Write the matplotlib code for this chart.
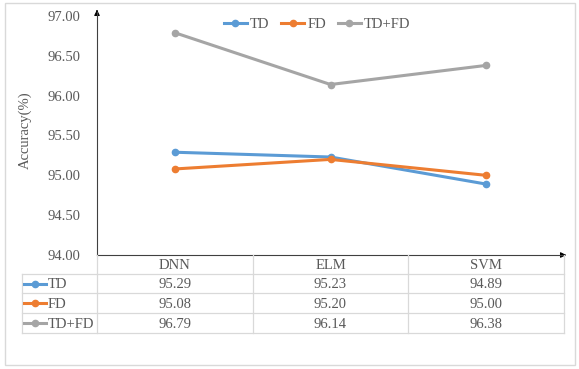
import matplotlib.pyplot as plt
from matplotlib.lines import Line2D
from matplotlib.patches import Rectangle

W, H = 579, 369

categories = ["DNN", "ELM", "SVM"]
series_names = ["TD", "FD", "TD+FD"]
td = [95.29, 95.23, 94.89]
fd = [95.08, 95.20, 95.00]
td_fd = [96.79, 96.14, 96.38]
yticks = [94.0, 94.5, 95.0, 95.5, 96.0, 96.5, 97.0]
colors = ["#5B9BD5", "#ED7D31", "#A5A5A5"]

plt.rcParams['font.family'] = ['Liberation Serif', 'DejaVu Serif']
TXT = "#595959"
GRID = "#D9D9D9"


def fx(x):
    return x / W


def fy(y):
    return 1 - y / H


fig = plt.figure(figsize=(W / 100, H / 100), dpi=100)

# outer chart border
fig.add_artist(Rectangle((fx(5), fy(365)), fx(570), 362 / H, transform=fig.transFigure,
                         fill=False, edgecolor=GRID, lw=1))

# plot area
left, right, top, bottom = 97, 564, 16, 255
ax = fig.add_axes([fx(left), fy(bottom), fx(right - left), (bottom - top) / H])
ax.set_xlim(0, 3)
ax.set_ylim(94, 97)
for s in ax.spines.values():
    s.set_visible(False)
ax.set_xticks([])
ax.set_yticks(yticks)
ax.set_yticklabels([f"{v:.2f}" for v in yticks], fontsize=10.5, color=TXT)
ax.tick_params(axis='y', length=0, pad=12)
ax.patch.set_alpha(0)
fig.text(fx(25), fy(130), "Accuracy(%)", rotation=90, ha='center', va='center',
         fontsize=10.5, color=TXT)

xs = [0.5, 1.5, 2.5]
for name, vals, c in zip(series_names, [td, fd, td_fd], colors):
    ax.plot(xs, vals, color=c, lw=2.2, marker='o', ms=4.5, label=name)

ax.legend(loc='center', bbox_to_anchor=(fx(317), fy(24)), bbox_transform=fig.transFigure,
          ncol=3, frameon=False, fontsize=10.5, handlelength=1.6, handletextpad=0.2,
          columnspacing=0.8, labelcolor=TXT)

# axis arrows
fig.add_artist(Line2D([fx(97), fx(97)], [fy(255), fy(12)], color="#404040", lw=0.8))
fig.add_artist(Line2D([fx(97), fx(563)], [fy(255), fy(255)], color="#404040", lw=0.8))
ax.annotate("", xy=(fx(97), fy(7)), xytext=(fx(97), fy(14)), xycoords='figure fraction',
            arrowprops=dict(arrowstyle='-|>', color='black', lw=0.8, mutation_scale=8))
ax.annotate("", xy=(fx(569), fy(255)), xytext=(fx(561), fy(255)), xycoords='figure fraction',
            arrowprops=dict(arrowstyle='-|>', color='black', lw=0.8, mutation_scale=8))

# data table
col_edges = [97, 253, 408, 564]
row_edges = [255, 274, 293, 313, 333]
tab_left = 22


def hline(x0, x1, y):
    fig.add_artist(Line2D([fx(x0), fx(x1)], [fy(y), fy(y)], color=GRID, lw=0.9))


def vline(x, y0, y1):
    fig.add_artist(Line2D([fx(x), fx(x)], [fy(y0), fy(y1)], color=GRID, lw=0.9))


for y in row_edges[1:]:
    hline(tab_left, col_edges[-1], y)
for x in col_edges:
    vline(x, row_edges[0], row_edges[-1])
vline(tab_left, row_edges[1], row_edges[-1])

for i, cat in enumerate(categories):
    cx = (col_edges[i] + col_edges[i + 1]) / 2
    fig.text(fx(cx), fy((row_edges[0] + row_edges[1]) / 2 + 1), cat, ha='center', va='center',
             fontsize=10.5, color=TXT)

for r, (name, vals, c) in enumerate(zip(series_names, [td, fd, td_fd], colors)):
    cy = (row_edges[r + 1] + row_edges[r + 2]) / 2
    fig.add_artist(Line2D([fx(24), fx(46)], [fy(cy), fy(cy)], color=c, lw=2.2))
    fig.add_artist(Line2D([fx(35)], [fy(cy)], color=c, marker='o', ms=4.5))
    fig.text(fx(48), fy(cy + 1), name, ha='left', va='center', fontsize=10.5, color=TXT)
    for i, v in enumerate(vals):
        cx = (col_edges[i] + col_edges[i + 1]) / 2
        fig.text(fx(cx), fy(cy + 1), f"{v:.2f}", ha='center', va='center', fontsize=10.5, color=TXT)

fig.savefig("out.png", dpi=100)
